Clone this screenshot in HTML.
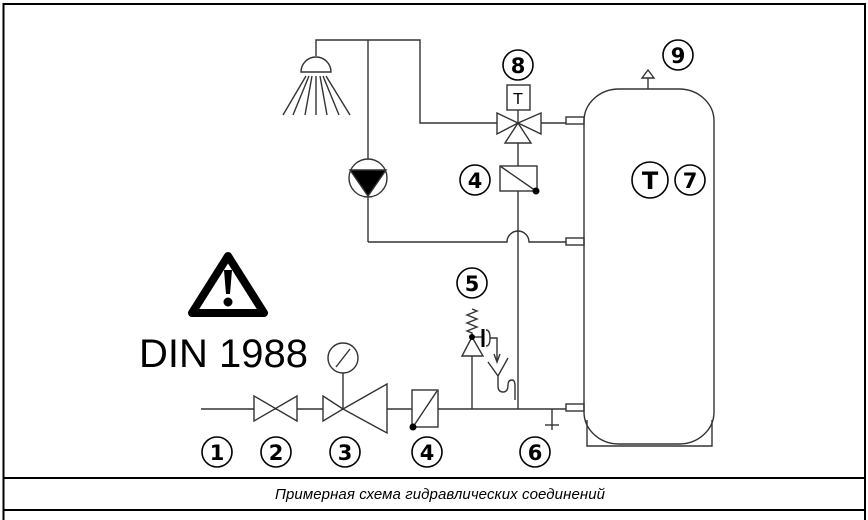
<!DOCTYPE html>
<html><head><meta charset="utf-8"><style>
html,body{margin:0;padding:0;background:#fff;width:868px;height:520px;overflow:hidden}
svg{display:block}
text{font-family:"DejaVu Sans","Liberation Sans",sans-serif}
</style></head><body>
<svg width="868" height="520" viewBox="0 0 868 520" xmlns="http://www.w3.org/2000/svg">
<g fill="none" stroke="#000" stroke-width="2">
<path d="M3.5 520 V4 H865 V520"/>
<line x1="3" y1="478" x2="865" y2="478"/>
<line x1="3" y1="510" x2="865" y2="510"/>
</g>
<g fill="none" stroke="#333" stroke-width="1.4">
<polyline points="316,56 316,40 420,40 420,123 497,123"/>
<line x1="541" y1="123" x2="566" y2="123"/>
<line x1="368" y1="40" x2="368" y2="159"/>
<line x1="368" y1="197" x2="368" y2="242"/>
<path d="M368 242 H507 A11 11 0 0 1 529 242 H566"/>
<line x1="518" y1="143" x2="518" y2="166"/>
<line x1="518" y1="191" x2="518" y2="409"/>
<path d="M301 72 A15 15 0 0 1 331 72 Z" fill="#fff"/>
<line x1="306" y1="76" x2="283" y2="115"/>
<line x1="309" y1="76" x2="293" y2="115"/>
<line x1="312" y1="76" x2="305" y2="115"/>
<line x1="316" y1="76" x2="316" y2="115"/>
<line x1="320" y1="76" x2="327" y2="115"/>
<line x1="323" y1="76" x2="339" y2="115"/>
<line x1="326" y1="76" x2="350" y2="115"/>
<circle cx="368" cy="178" r="19"/>
<path d="M350 170 H386 L368 196 Z" fill="#000"/>
<rect x="507" y="85" width="23" height="25"/>
<line x1="518" y1="110" x2="518" y2="123"/>
<path d="M497 113 L518 123 L497 134 Z M541 113 L518 123 L541 134 Z M518 123 L531 143 L505 143 Z"/>
<rect x="500" y="166" width="37" height="25"/>
<line x1="500" y1="166" x2="536" y2="191"/>
<rect x="566" y="117" width="18" height="7"/>
<rect x="566" y="238" width="18" height="7"/>
<rect x="566" y="404" width="18" height="7"/>
<rect x="584" y="89" width="130" height="355" rx="35" ry="32"/>
<polyline points="587,420 587,446 712,446 712,420"/>
<line x1="648" y1="89" x2="648" y2="78"/>
<path d="M642 78 L648 70 L654 78 Z"/>
<line x1="201" y1="409" x2="566" y2="409"/>
<path d="M254 396 L297 421 L297 396 L254 421 Z" fill="#fff"/>
<path d="M323 396 L343 409 L323 421 Z M343 409 L387 384 L387 433 Z" fill="#fff"/>
<line x1="343" y1="409" x2="343" y2="373"/>
<circle cx="343" cy="358" r="15"/>
<line x1="336" y1="367" x2="350" y2="349"/>
<rect x="412" y="390" width="26" height="37" fill="#fff"/>
<line x1="413" y1="427" x2="437" y2="391"/>
<line x1="552" y1="409" x2="552" y2="430"/>
<line x1="545" y1="425" x2="559" y2="425"/>
<line x1="472" y1="409" x2="472" y2="356"/>
<path d="M472 337 L483 356 L462 356 Z"/>
<polyline points="472,337 472,333 467,331 477,327 467,323 477,319 467,315 477,311 472,309"/>
<line x1="472" y1="337" x2="483" y2="337"/>
<path d="M486 330 Q490 330 490 338 Q490 346 486 346"/>
<path d="M490 338 H497 V360"/>
<path d="M494 354 L497 362 L500 354"/>
<path d="M488 362 L498 376 L508 358 M498 376 V386 Q498 392 503 392 Q508 392 508 385 Q508 380 512 380 Q515 380 515 386 V400"/>
</g>
<g fill="none" stroke="#000" stroke-width="1.6">
<circle cx="518" cy="65" r="15"/>
<circle cx="475" cy="180" r="15"/>
<circle cx="678" cy="55" r="15"/>
<circle cx="650" cy="180" r="18"/>
<circle cx="690" cy="180" r="15"/>
<circle cx="472" cy="283" r="15"/>
<circle cx="217" cy="452" r="15"/>
<circle cx="276" cy="452" r="15"/>
<circle cx="345" cy="452" r="15"/>
<circle cx="427" cy="452" r="15"/>
<circle cx="535" cy="452" r="15"/>
</g>
<circle cx="536" cy="191" r="3.5" fill="#000"/>
<circle cx="413" cy="427" r="3.5" fill="#000"/>
<circle cx="472" cy="337" r="3" fill="#000"/>
<line x1="483" y1="329" x2="483" y2="347" stroke="#000" stroke-width="3"/>
<path d="M228 256 L264 313 L192 313 Z" fill="none" stroke="#000" stroke-width="8" stroke-linejoin="round"/>
<path d="M224 270 H232 L230 294 H226 Z" fill="#000"/>
<circle cx="228" cy="302" r="4.5" fill="#000"/>
<text x="139" y="367" font-size="40" style="font-family:'Liberation Sans',sans-serif">DIN 1988</text>
<g font-size="21" text-anchor="middle" fill="#000" font-weight="bold">
<text x="518" y="73">8</text>
<text x="475" y="188">4</text>
<text x="678" y="63">9</text>
<text x="650" y="189" font-size="24">T</text>
<text x="690" y="188">7</text>
<text x="472" y="291">5</text>
<text x="217" y="460">1</text>
<text x="276" y="460">2</text>
<text x="345" y="460">3</text>
<text x="427" y="460">4</text>
<text x="535" y="460">6</text>
<text x="518" y="104" font-size="15" font-weight="normal">T</text>
</g>
<text x="440" y="499" font-size="15" font-style="italic" text-anchor="middle" textLength="330" style="font-family:'Liberation Sans',sans-serif">Примерная схема гидравлических соединений</text>
</svg>
</body></html>
